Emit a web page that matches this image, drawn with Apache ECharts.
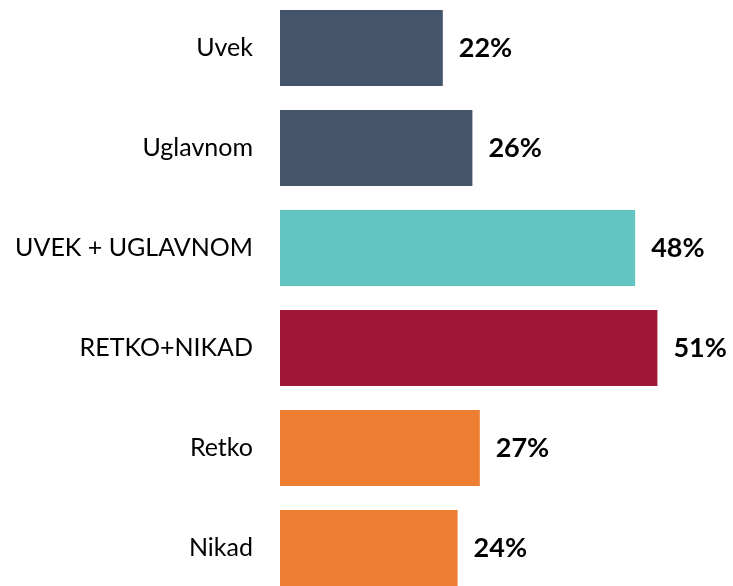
<!DOCTYPE html>
<html>
<head>
<meta charset="utf-8">
<script src="https://cdn.jsdelivr.net/npm/echarts@6/dist/echarts.min.js"></script>
<style>
  html, body { margin: 0; padding: 0; background: #fff; }
  #main { width: 733px; height: 586px; }
</style>
</head>
<body>
<div id="main"></div>
<script>
var categories = ['Uvek', 'Uglavnom', 'UVEK + UGLAVNOM', 'RETKO+NIKAD', 'Retko', 'Nikad'];
var values = [22, 26, 48, 51, 27, 24];
var colors = ['#44546A', '#44546A', '#63C5C1', '#A01735', '#ED7D31', '#ED7D31'];

var chart = echarts.init(document.getElementById('main'));

chart.setOption({
    animation: false,
    grid: {
        left: 280, width: 444, top: -2, height: 600,
        containLabel: false, outerBoundsMode: 'none'
    },
    xAxis: {
        type: 'value',
        min: 0,
        max: 60,
        show: false
    },
    yAxis: {
        type: 'category',
        inverse: true,
        data: categories,
        axisLine: { show: false },
        axisTick: { show: false },
        axisLabel: {
            margin: 27,
            color: '#000',
            fontSize: 25,
            fontFamily: 'Lato'
        }
    },
    series: [{
        type: 'bar',
        barWidth: 76,
        data: values.map(function (v, i) {
            return { value: v, itemStyle: { color: colors[i] } };
        }),
        label: {
            show: true,
            position: 'right',
            distance: 16,
            formatter: '{c}%',
            color: '#000',
            fontSize: 27,
            fontWeight: 'bold',
            fontFamily: 'Lato'
        }
    }]
});
</script>
</body>
</html>
